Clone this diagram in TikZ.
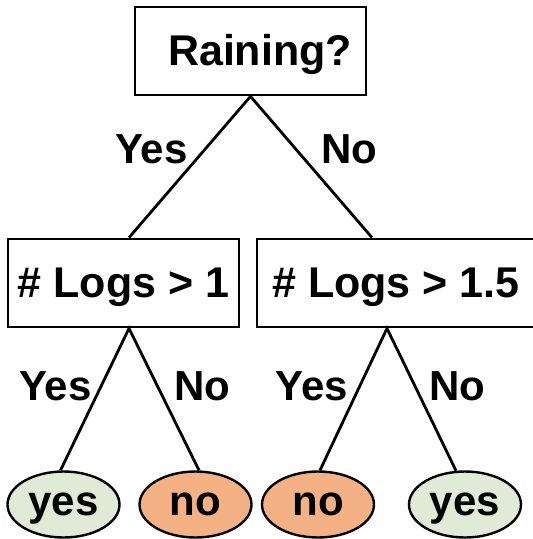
\documentclass[tikz,border=0pt]{standalone}
\usepackage{fontspec}
\setmainfont{Liberation Sans}
\usetikzlibrary{shapes.geometric,calc}
\definecolor{leafgreen}{HTML}{E0EAD6}
\definecolor{leaforange}{HTML}{F4B183}
\begin{document}
\begin{tikzpicture}[x=1pt,y=-1pt,
  testbox/.style={draw=black,line width=2.8pt,rectangle,minimum height=88pt,
    font=\fontsize{43pt}{50pt}\selectfont\bfseries,text height=31pt,text depth=3pt,inner ysep=0pt},
  leaf/.style={draw=black,line width=2.4pt,ellipse,minimum width=112pt,minimum height=66pt,inner sep=0pt,
    font=\fontsize{42pt}{50pt}\selectfont\bfseries,text height=22pt,text depth=0pt},
  yesleaf/.style={leaf,fill=leafgreen},
  noleaf/.style={leaf,fill=leaforange},
  edgelabel/.style={font=\fontsize{42pt}{50pt}\selectfont\bfseries,text height=30pt,text depth=0pt,inner sep=0pt},
  branch/.style={draw=black,line width=2.8pt}]
\clip (0,0) rectangle (533,539);
\useasboundingbox (0,0) rectangle (533,539);

\node[testbox,minimum width=231pt,text width=203pt,align=right,inner xsep=14pt] (root) at (250.5,51) {Raining?};
\node[testbox,minimum width=231pt,inner xsep=8pt] (lbox) at (123.5,283) {\# Logs > 1};
\node[testbox,minimum width=278pt,inner xsep=8pt] (rbox) at (396,283) {\# Logs > 1.5};

\node[yesleaf] (e1) at (63.5,504.5) {yes};
\node[noleaf] (e2) at (195.5,504.5) {no};
\node[noleaf] (e3) at (318,504.5) {no};
\node[yesleaf] (e4) at (465,504.5) {yes};

\draw[branch] ($(lbox.north)+(5.5,0)$) -- (root.south) -- ($(rbox.north)+(-24,0)$);
\draw[branch] ($(e1.north)+(-3,0)$) -- ($(lbox.south)+(5.5,0)$) -- ($(e2.north)+(3.5,0)$);
\draw[branch] ($(e3.north)+(2,0)$) -- ($(rbox.south)+(-9,0)$) -- ($(e4.north)+(-9,0.4)$);

\node[edgelabel] (l1) at (151.5,148) {Yes};
\node[edgelabel] (l2) at (349,148) {No};
\node[edgelabel] (l3) at (55.5,385) {Yes};
\node[edgelabel] (l4) at (202,385) {No};
\node[edgelabel] (l5) at (312,385) {Yes};
\node[edgelabel] (l6) at (457,385) {No};
\end{tikzpicture}
\end{document}
